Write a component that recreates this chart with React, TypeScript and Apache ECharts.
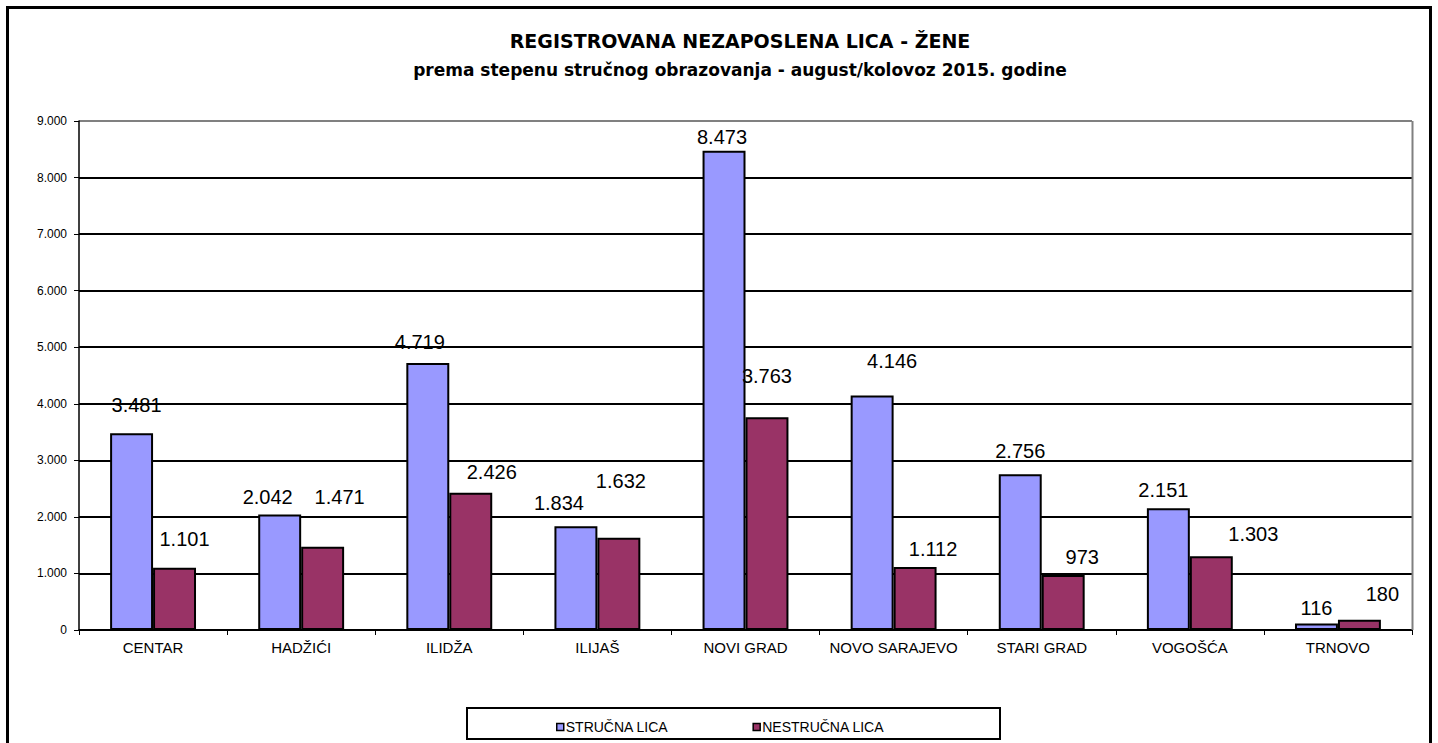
import React, { useEffect, useRef } from "react";
import * as echarts from "echarts";

const categories = ["CENTAR", "HADŽIĆI", "ILIDŽA", "ILIJAŠ", "NOVI GRAD", "NOVO SARAJEVO", "STARI GRAD", "VOGOŠĆA", "TRNOVO"];
const strucnaLica = [3481, 2042, 4719, 1834, 8473, 4146, 2756, 2151, 116];
const nestrucnaLica = [1101, 1471, 2426, 1632, 3763, 1112, 973, 1303, 180];
const seriesNames = ["STRUČNA LICA", "NESTRUČNA LICA"];
const titleText = "REGISTROVANA NEZAPOSLENA LICA - ŽENE";
const subtitleText = "prema stepenu stručnog obrazovanja - august/kolovoz 2015. godine";

// label offsets (dx, dy) to mimic manually placed data labels
const strucnaOffsets = [[5, -13], [-12, -3], [-8, -6], [-17, -8], [-2, 1], [20, -20], [0, -8], [-5, -3], [0, 0]];
const nestrucnaOffsets = [[10, -14], [17, -35], [21, -6], [2, -42], [0, -26], [18, -3], [19, -3], [42, -7], [23, -11]];

const fmt = (v: number) => String(v).replace(/\B(?=(\d{3})+(?!\d))/g, ".");

export default function App() {
  const ref = useRef<HTMLDivElement>(null);
  useEffect(() => {
    const chart = echarts.init(ref.current!, null, { renderer: "svg" });
    const font = "Arial, 'Liberation Sans', sans-serif";
    const titleFont = "'DejaVu Sans', sans-serif";
    const mk = (vals: number[], offs: number[][]) =>
      vals.map((v, i) => ({ value: v, label: { offset: offs[i] } }));
    const gridColors = ["#000", "#000", "#000", "#000", "#000", "#000", "#000", "#000", "#000", "#808080"];
    const labelCfg = { show: true, position: "top", fontSize: 20, color: "#000", fontFamily: font, formatter: (p: any) => fmt(p.value) };
    chart.setOption({
      animation: false,
      backgroundColor: "#fff",
      textStyle: { fontFamily: font },
      grid: { left: 79, right: 26, top: 121, bottom: 113, containLabel: false },
      legend: {
        left: 551,
        top: 715,
        itemWidth: 7,
        itemHeight: 7,
        itemGap: 84,
        icon: "rect",
        textStyle: { fontSize: 14, color: "#000", fontFamily: font, padding: [0, 0, 0, -3] },
        itemStyle: { borderColor: "#000", borderWidth: 1.5 },
        data: seriesNames,
      },
      xAxis: {
        type: "category",
        data: categories,
        axisLine: { lineStyle: { color: "#000", width: 1.5 } },
        axisTick: { show: true, length: 5, lineStyle: { color: "#000" } },
        axisLabel: { color: "#000", fontSize: 15, margin: 10, interval: 0, fontFamily: font },
      },
      yAxis: {
        type: "value",
        min: 0,
        max: 9000,
        interval: 1000,
        axisLine: { show: true, lineStyle: { color: "#000", width: 1.5 } },
        axisTick: { show: true, length: 5, lineStyle: { color: "#000" } },
        axisLabel: { color: "#000", fontSize: 12, margin: 12, fontFamily: font, formatter: (v: number) => fmt(v) },
        splitLine: { show: true, lineStyle: { color: gridColors, width: 2 } },
      },
      graphic: [
        { type: "rect", shape: { x: 7.5, y: 7.5, width: 1423, height: 800 }, style: { fill: "none", stroke: "#000", lineWidth: 3 }, z: 100 },
        { type: "line", shape: { x1: 1412.5, y1: 121, x2: 1412.5, y2: 630 }, style: { stroke: "#808080", lineWidth: 2 }, z: 1 },
        { type: "rect", shape: { x: 467, y: 708, width: 533, height: 31 }, style: { fill: "none", stroke: "#000", lineWidth: 2 }, z: 100 },
        { type: "text", x: 740, y: 41, style: { text: titleText, font: `bold 19px ${titleFont}`, fill: "#000", textAlign: "center", textVerticalAlign: "middle" } },
        { type: "text", x: 740, y: 70, style: { text: subtitleText, font: `bold 17px ${titleFont}`, fill: "#000", textAlign: "center", textVerticalAlign: "middle" } },
      ],
      series: [
        {
          name: seriesNames[0],
          type: "bar",
          data: mk(strucnaLica, strucnaOffsets),
          barGap: "0%",
          barCategoryGap: "42%",
          itemStyle: { color: "#9999FF", borderColor: "#000", borderWidth: 2 },
          label: labelCfg,
        },
        {
          name: seriesNames[1],
          type: "bar",
          data: mk(nestrucnaLica, nestrucnaOffsets),
          itemStyle: { color: "#993366", borderColor: "#000", borderWidth: 2 },
          label: labelCfg,
        },
      ],
    });
    return () => chart.dispose();
  }, []);
  return <div ref={ref} style={{ position: "fixed", left: 0, top: 0, width: 1438, height: 743 }} />;
}
